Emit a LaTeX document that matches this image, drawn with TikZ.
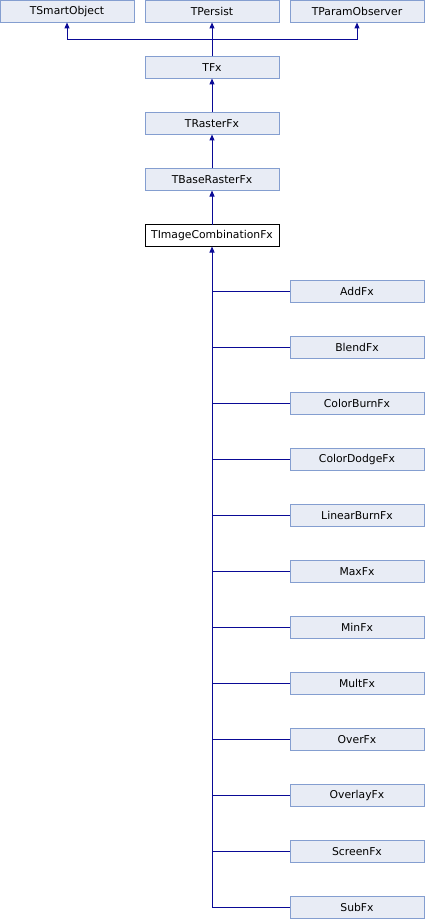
\documentclass[tikz,border=0pt]{standalone}
\usepackage{fontspec}
\setmainfont{DejaVu Sans}
\usepackage{tikz}
\usetikzlibrary{arrows.meta,positioning}

\definecolor{boxfill}{RGB}{232,236,245}
\definecolor{boxline}{RGB}{132,158,208}
\definecolor{edgeblue}{RGB}{10,10,150}

\begin{document}
\begin{tikzpicture}[
			x=1pt, y=-1pt,
			node distance=34pt,
			every node/.style={font=\fontsize{10.8}{12}\selectfont},
			classbox/.style={rectangle, draw=boxline, fill=boxfill, minimum width=134pt, minimum height=22pt, inner sep=0pt, outer sep=0pt, text centered},
			mainbox/.style={classbox, draw=black, fill=white},
			edge/.style={draw, edgeblue, line width=1pt},
			arrow/.style={edge, -{Triangle[length=6pt,width=5pt]}}
			]
			\useasboundingbox (0,0) rectangle (425,920);
			
			% parents
			\node (persist) [classbox] at (212,11.5) {TPersist};
			\node (smart) [classbox, left=11pt of persist] {TSmartObject};
			\node (observer) [classbox, right=11pt of persist] {TParamObserver};
			
			% main chain
			\node (fx) [classbox, below=of persist] {TFx};
			\node (raster) [classbox, below=of fx] {TRasterFx};
			\node (base) [classbox, below=of raster] {TBaseRasterFx};
			\node (comb) [mainbox, below=of base] {TImageCombinationFx};
			
			% derived classes
			\node (add) [classbox, below right=34pt and 11pt of comb] {AddFx};
			\node (blend) [classbox, below=of add] {BlendFx};
			\node (burn) [classbox, below=of blend] {ColorBurnFx};
			\node (dodge) [classbox, below=of burn] {ColorDodgeFx};
			\node (linear) [classbox, below=of dodge] {LinearBurnFx};
			\node (max) [classbox, below=of linear] {MaxFx};
			\node (min) [classbox, below=of max] {MinFx};
			\node (mult) [classbox, below=of min] {MultFx};
			\node (over) [classbox, below=of mult] {OverFx};
			\node (overlay) [classbox, below=of over] {OverlayFx};
			\node (screen) [classbox, below=of overlay] {ScreenFx};
			\node (sub) [classbox, below=of screen] {SubFx};
			
			% edges
			\coordinate (join) at (212,40);
			\draw [edge] (fx.north) -- (join);
			\draw [arrow] (join) -- (persist.south);
			\draw [arrow] (join) -| (smart.south);
			\draw [arrow] (join) -| (observer.south);
			\draw [arrow] (raster) -- (fx);
			\draw [arrow] (base) -- (raster);
			\draw [arrow] (comb) -- (base);
			\draw [arrow] (sub.west) -| (comb.south);
			\foreach \child in {add,blend,burn,dodge,linear,max,min,mult,over,overlay,screen}
				\draw [edge] (\child.west) -- (comb.south |- \child.west);
			
		\end{tikzpicture}
\end{document}
